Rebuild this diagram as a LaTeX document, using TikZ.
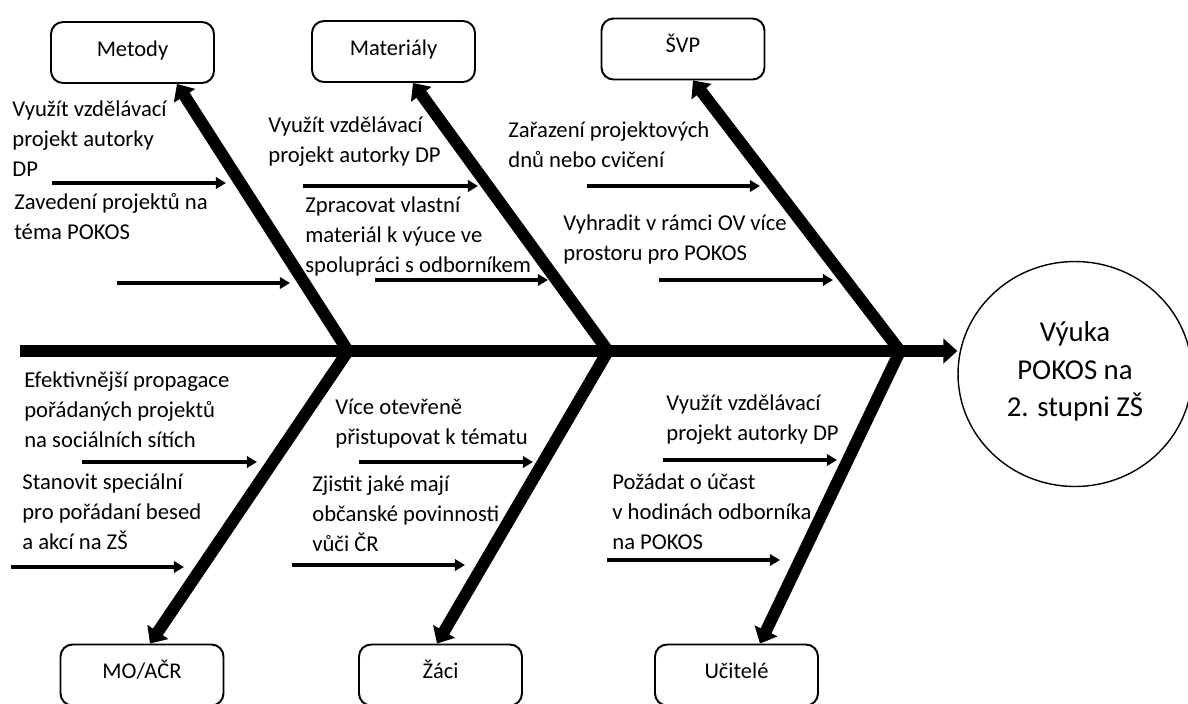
\documentclass[tikz,border=0pt]{standalone}
\usepackage{fontspec}
\setmainfont{Carlito}
\usetikzlibrary{arrows.meta,shapes.geometric}

\tikzset{
  cat/.style={draw,rounded corners=0.24cm,line width=1.1pt,minimum width=3.26cm,
    minimum height=1.22cm,text height=9pt,text depth=5pt,
    font=\fontsize{12.8}{17}\selectfont},
  cause/.style={anchor=base west,align=left,inner sep=0pt,
    font=\fontsize{12.9}{17}\selectfont},
  bone/.style={line width=6.8pt,-{Triangle[length=8pt,width=14pt]}},
  twig/.style={line width=2.8pt,-{Triangle[length=5.7pt,width=6.4pt]}},
}

\begin{document}
\begin{tikzpicture}[x=0.02cm,y=-0.02cm]

\useasboundingbox (0,0) rectangle (1188,704);

\node (goal) [draw,ellipse,line width=0.8pt,minimum width=4.68cm,minimum height=4.5cm,
  align=center,text depth=0.2cm,font=\fontsize{16.4}{21.6}\selectfont] at (1075,374)
  {Výuka\\POKOS na\\2. stupni ZŠ};

\node (metody)    [cat] at (132.5,52.5) {Metody};
\node (materialy) [cat] at (393.5,51.5) {Materiály};
\node (svp)       [cat] at (683,49)     {ŠVP};
\node (moacr)     [cat] at (142,675)    {MO/AČR};
\node (zaci)      [cat] at (440.5,675)  {Žáci};
\node (ucitele)   [cat] at (736.5,675)  {Učitelé};

\coordinate (tail) at (20,351);
\coordinate (j1) at (348,351);
\coordinate (j2) at (608,351);
\coordinate (j3) at (900,351);

\draw [bone] (tail) -- (tail -| goal.west);

\draw [bone] (j1) -- ([xshift=0.89cm]metody.south);
\draw [bone] (j2) -- ([xshift=0.39cm]materialy.south);
\draw [bone] (j3) -- ([xshift=0.2cm]svp.south);
\draw [bone] (j1) -- ([xshift=0.16cm]moacr.north);
\draw [bone] (j2) -- ([xshift=-0.07cm]zaci.north);
\draw [bone] (j3) -- ([xshift=0.47cm]ucitele.north);

% Metody
\node (m1) [cause] at (12,176) {Využít vzdělávací\\projekt autorky\\DP};
\node (m2) [cause] at (14,239) {Zavedení projektů na\\téma POKOS};
\coordinate (m1a) at (52,183);  \coordinate (m1b) at (226,183);
\coordinate (m2a) at (117,283); \coordinate (m2b) at (290,283);
\draw [twig] (m1a) -- (m1b);
\draw [twig] (m2a) -- (m2b);

% Materiály
\node (t1) [cause] at (268,162) {Využít vzdělávací\\projekt autorky DP};
\node (t2) [cause] at (305,272) {Zpracovat vlastní\\materiál k výuce ve\\spolupráci s odborníkem};
\coordinate (t1a) at (303,186); \coordinate (t1b) at (478,186);
\coordinate (t2a) at (375,280); \coordinate (t2b) at (548,280);
\draw [twig] (t1a) -- (t1b);
\draw [twig] (t2a) -- (t2b);

% ŠVP
\node (s1) [cause] at (508,167) {Zařazení projektových\\dnů nebo cvičení};
\node (s2) [cause] at (563,260) {Vyhradit v rámci OV více\\prostoru pro POKOS};
\coordinate (s1a) at (587,186); \coordinate (s1b) at (760,186);
\coordinate (s2a) at (659,280); \coordinate (s2b) at (833,280);
\draw [twig] (s1a) -- (s1b);
\draw [twig] (s2a) -- (s2b);

% MO/AČR
\node (o1) [cause] at (24,447) {Efektivnější propagace\\pořádaných projektů\\na sociálních sítích};
\node (o2) [cause] at (22,549) {Stanovit speciální\\pro pořádaní besed\\a akcí na ZŠ};
\coordinate (o1a) at (82,462); \coordinate (o1b) at (257,462);
\coordinate (o2a) at (11,567); \coordinate (o2b) at (184,567);
\draw [twig] (o1a) -- (o1b);
\draw [twig] (o2a) -- (o2b);

% Žáci
\node (z1) [cause] at (335,444) {Více otevřeně\\přistupovat k tématu};
\node (z2) [cause] at (312,551) {Zjistit jaké mají\\občanské povinnosti\\vůči ČR};
\coordinate (z1a) at (359,462); \coordinate (z1b) at (533,462);
\coordinate (z2a) at (292,565); \coordinate (z2b) at (465,565);
\draw [twig] (z1a) -- (z1b);
\draw [twig] (z2a) -- (z2b);

% Učitelé
\node (u1) [cause] at (666,440) {Využít vzdělávací\\projekt autorky DP};
\node (u2) [cause] at (612,549) {Požádat o účast\\v hodinách odborníka\\na POKOS};
\coordinate (u1a) at (663,460); \coordinate (u1b) at (837,460);
\coordinate (u2a) at (607,560); \coordinate (u2b) at (780,560);
\draw [twig] (u1a) -- (u1b);
\draw [twig] (u2a) -- (u2b);

\end{tikzpicture}
\end{document}
